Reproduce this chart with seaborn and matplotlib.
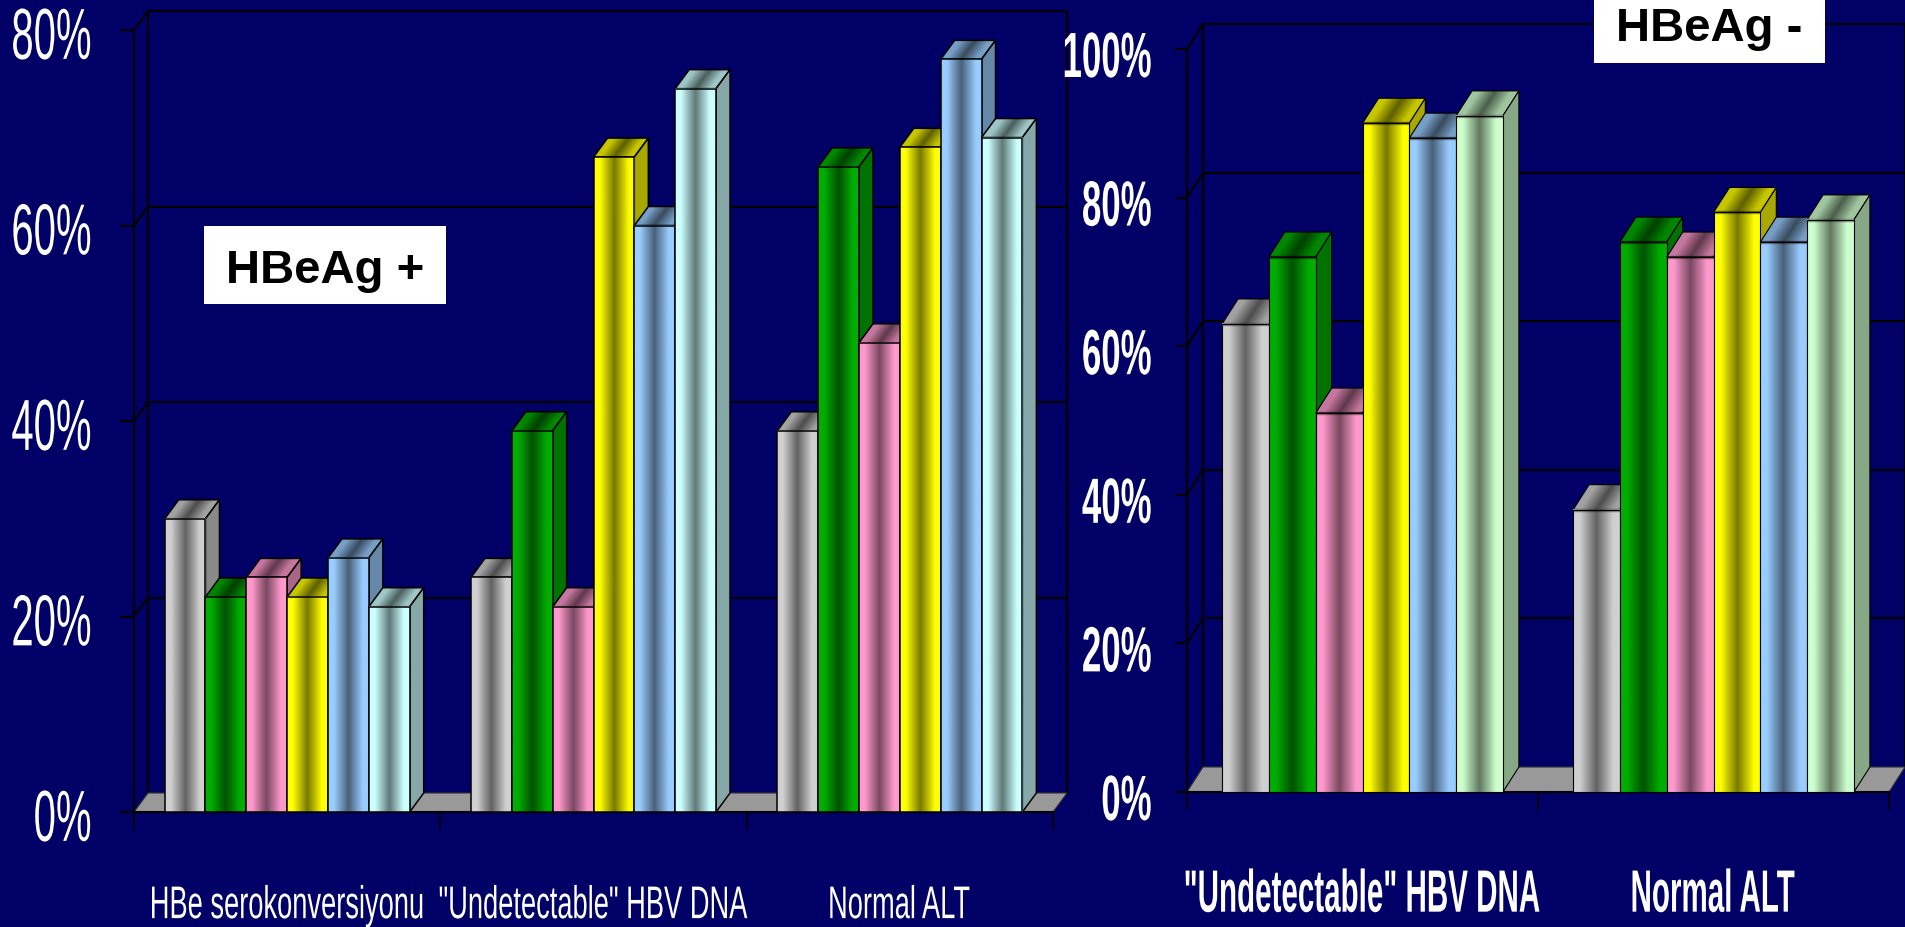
import numpy as np
import pandas as pd
import matplotlib
matplotlib.use("Agg")
import matplotlib.pyplot as plt
import seaborn as sns
from matplotlib.colors import LinearSegmentedColormap, to_rgb
from matplotlib.patches import Polygon, Rectangle
from matplotlib.text import Text
from matplotlib.textpath import TextPath
from matplotlib.transforms import Affine2D, Bbox, ScaledTranslation

# Response rates (%) per endpoint and treatment arm
series_names = ["Kol 1", "Kol 2", "Kol 3", "Kol 4", "Kol 5", "Kol 6"]

pos_categories = ["HBe serokonversiyonu", '"Undetectable" HBV DNA', "Normal ALT"]
pos_arm1 = [30, 24, 39]
pos_arm2 = [22, 39, 66]
pos_arm3 = [24, 21, 48]
pos_arm4 = [22, 67, 68]
pos_arm5 = [26, 60, 77]
pos_arm6 = [21, 74, 69]

neg_categories = ['"Undetectable" HBV DNA', "Normal ALT"]
neg_arm1 = [63, 38]
neg_arm2 = [72, 74]
neg_arm3 = [51, 72]
neg_arm4 = [90, 78]
neg_arm5 = [88, 74]
neg_arm6 = [91, 77]

# Styling: bright edge colour of each bar's metallic sheen
pos_light = ["#d0d0d0", "#00ad00", "#ff99cc", "#ffff00", "#99ccff", "#ccffff"]
neg_light = ["#d0d0d0", "#00ad00", "#ff99cc", "#ffff00", "#99ccff", "#ccffcc"]

NAVY = "#000066"
W, H = 1905, 927
FONT = ["Liberation Sans", "DejaVu Sans"]

sns.set_theme(style="white")
plt.rcParams["font.family"] = FONT
plt.rcParams["axes.facecolor"] = NAVY
plt.rcParams["figure.facecolor"] = NAVY


class SqueezedText(Text):
    """Text drawn horizontally condensed, since no narrow face is installed."""

    squeeze = 1.0

    def _glyphs(self):
        """Glyph outline in pixels and its offset from the anchor point."""
        dpi = self.get_figure(root=True).dpi
        path = TextPath((0, 0), self.get_text(), size=self.get_fontsize() * dpi / 72,
                        prop=self.get_fontproperties())
        box = path.get_extents()
        dx = {"left": -box.x0, "center": -(box.x0 + box.x1) / 2, "right": -box.x1}[self.get_ha()] * self.squeeze
        dy = {"top": -box.y1, "bottom": -box.y0, "baseline": 0}.get(self.get_va(), -(box.y0 + box.y1) / 2)
        return path, Affine2D().scale(self.squeeze, 1).translate(dx, dy)

    def _get_layout(self, renderer):
        path, local = self._glyphs()
        return Bbox(path.get_extents(local).get_points()), [], 0

    def draw(self, renderer):
        if not self.get_visible() or not self.get_text():
            return
        path, local = self._glyphs()
        anchor = self.get_transform().transform(self.get_unitless_position())
        gc = renderer.new_gc()
        gc.set_linewidth(0)
        gc.set_antialiased(True)
        renderer.draw_path(gc, path, local + Affine2D().translate(*anchor), rgbFace=to_rgb(self.get_color()))
        gc.restore()


def condense(label, factor):
    label.__class__ = SqueezedText
    label.squeeze = factor


def sheen(light, factor=1.0):
    """Horizontal metallic ramp: bright rim, dark middle."""
    rgb = np.array(to_rgb(light)) * factor
    dark = rgb * 0.47
    return LinearSegmentedColormap.from_list(
        "sheen", [(0, rgb), (0.14, rgb), (0.5, dark), (0.86, rgb), (1, rgb)]
    )


RAMP = np.linspace(0, 1, 64).reshape(1, -1)


def draw_panel(box_px, categories, arms, ymax, light, depth_px, edge_lw, weight, tick_size, tick_squeeze,
               cat_size, cat_squeeze, ypad, ytick_px, xpad, label_shift_px, top_band):
    left, right, top, bottom = box_px
    fig = plt.gcf()
    ax = fig.add_axes([left / W, 1 - bottom / H, (right - left) / W, (bottom - top) / H])

    frame = pd.DataFrame(
        [(c, s, arm[i]) for s, arm in zip(series_names, arms) for i, c in enumerate(categories)],
        columns=["category", "arm", "value"],
    )
    sns.barplot(data=frame, x="category", y="value", hue="arm", hue_order=series_names,
                palette=light, width=0.8, gap=0, saturation=1, legend=False, ax=ax,
                err_kws={"linewidth": 0})
    bars = sorted(ax.patches, key=lambda p: p.get_x())

    n = len(categories)
    ax.set_autoscale_on(False)
    ax.set_xlim(-0.5, n - 0.5)
    ax.set_ylim(0, ymax)
    ddx = depth_px[0] / (right - left) * n
    ddy = depth_px[1] / (bottom - top) * ymax

    # Back wall, side wall and floor of the box
    line = dict(color="black", lw=1.5, clip_on=False, zorder=1.5, solid_capstyle="projecting")
    ticks = np.arange(0, ymax + 1, 20)
    for v in ticks[1:]:
        ax.plot([-0.5 + ddx, n - 0.5 + ddx], [v + ddy, v + ddy], **line)
        ax.plot([-0.5, -0.5 + ddx], [v, v + ddy], **line)
    ax.plot([-0.5 + ddx, -0.5 + ddx], [ddy, ymax + ddy], **line)
    ax.plot([n - 0.5 + ddx, n - 0.5 + ddx], [ddy, ymax + ddy], **line)
    ax.add_patch(Polygon([(-0.5, 0), (n - 0.5, 0), (n - 0.5 + ddx, ddy), (-0.5 + ddx, ddy)],
                         closed=True, fc="#999999", ec="#333333", lw=0.8, clip_on=False, zorder=1.8))

    # Extrude each bar: top face, side face, then the shaded front
    for k, bar in enumerate(bars):
        x0, w, h = bar.get_x(), bar.get_width(), bar.get_height()
        x1 = x0 + w
        base = to_rgb(bar.get_facecolor()[:3])
        z = 3 + k * 0.01

        im = ax.imshow(RAMP, cmap=sheen(base, 0.78), aspect="auto", extent=(0, 1, 0, 1),
                       interpolation="bilinear", zorder=z,
                       transform=Affine2D.from_values(w, 0, ddx, ddy, x0, h) + ax.transData)
        im.set_clip_on(False)
        ax.add_patch(Polygon([(x0, h), (x1, h), (x1 + ddx, h + ddy), (x0 + ddx, h + ddy)],
                             closed=True, fc="none", ec="black", lw=edge_lw, clip_on=False, zorder=z + 0.001))
        ax.add_patch(Polygon([(x1, 0), (x1 + ddx, ddy), (x1 + ddx, h + ddy), (x1, h)],
                             closed=True, fc=np.array(base) * 0.66, ec="black", lw=edge_lw,
                             clip_on=False, zorder=z + 0.002))
        front = ax.imshow(RAMP, cmap=sheen(base), aspect="auto", extent=(x0, x1, 0, h),
                          interpolation="bilinear", zorder=z + 0.003)
        front.set_clip_on(False)
        bar.set_facecolor("none")
        bar.set_edgecolor("black")
        bar.set_linewidth(edge_lw)
        bar.set_zorder(z + 0.004)
        bar.set_clip_on(False)
        if top_band:
            # Soft shadow where the top face meets the front
            ax.plot([x0, x1], [h, h], color="black", alpha=0.35, lw=top_band, clip_on=False,
                    zorder=z + 0.005, solid_capstyle="butt")

    # Axes, ticks and labels
    for name in ("top", "right"):
        ax.spines[name].set_visible(False)
    for name in ("left", "bottom"):
        ax.spines[name].set_color("black")
        ax.spines[name].set_linewidth(1.5)
        ax.spines[name].set_zorder(2.5)
    ax.set_xlabel("")
    ax.set_ylabel("")
    ax.set_xticks(range(n), categories)
    ax.set_xticks(np.arange(-0.5, n), minor=True)
    ax.tick_params(axis="x", which="major", length=0, pad=xpad, labelcolor="white", labelsize=cat_size)
    ax.tick_params(axis="x", which="minor", length=13, width=1.2, color="black", bottom=True)
    ax.set_yticks(ticks, [f"{v}%" for v in ticks])
    ax.tick_params(axis="y", which="major", length=ytick_px / 1.39, width=1.5, color="black", left=True,
                   pad=ypad, labelcolor="white", labelsize=tick_size)
    for lab in ax.get_yticklabels():
        lab.set_fontweight(weight)
        lab.set_transform(lab.get_transform() + ScaledTranslation(0, -label_shift_px / 100, fig.dpi_scale_trans))
        condense(lab, tick_squeeze)
    for lab in ax.get_xticklabels():
        lab.set_fontweight(weight)
        condense(lab, cat_squeeze)
    ax.set_axisbelow(False)
    return ax


def label_box(x0, x1, y0, y1, baseline_px, text):
    fig = plt.gcf()
    fig.add_artist(Rectangle((x0 / W, 1 - y1 / H), (x1 - x0) / W, (y1 - y0) / H,
                             transform=fig.transFigure, fc="white", ec="none", zorder=10))
    fig.text((x0 + x1) / 2 / W, 1 - baseline_px / H, text, ha="center", va="baseline", color="black",
             fontsize=34, fontweight="bold", zorder=11)


fig = plt.figure(figsize=(W / 100, H / 100), dpi=100, facecolor=NAVY)

draw_panel((134, 1053, 30, 812), pos_categories,
           [pos_arm1, pos_arm2, pos_arm3, pos_arm4, pos_arm5, pos_arm6],
           80, pos_light, (14, 19), 1.1, "normal", 52, 0.555, 33, 0.595, 21.5, 14, 52.5, 4, 0)
draw_panel((1187, 1889, 49, 792), neg_categories,
           [neg_arm1, neg_arm2, neg_arm3, neg_arm4, neg_arm5, neg_arm6],
           100, neg_light, (16, 25), 0.8, "bold", 46, 0.545, 43, 0.495, 17.5, 12, 55, 6, 2.5)

label_box(204, 446, 226, 304, 283, "HBeAg +")
label_box(1594, 1825, -2, 63, 41, "HBeAg -")

fig.savefig("out.png", dpi=100, facecolor=NAVY)
